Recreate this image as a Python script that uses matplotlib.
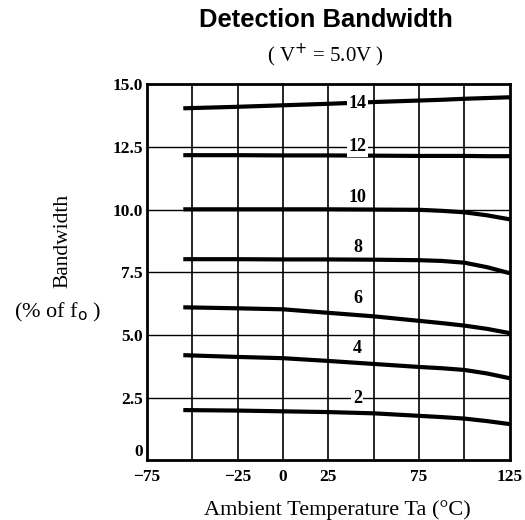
import numpy as np
import matplotlib
matplotlib.use("Agg")
import matplotlib.pyplot as plt

# temperature points (deg C)
temps = [-55, -25, 0, 25, 50, 75, 87.5, 100, 112.5, 125]

bw_2 = [2.00, 1.98, 1.95, 1.92, 1.87, 1.77, 1.72, 1.66, 1.56, 1.44]
bw_4 = [4.19, 4.12, 4.07, 3.96, 3.84, 3.72, 3.67, 3.60, 3.46, 3.27]
bw_6 = [6.10, 6.06, 6.02, 5.88, 5.74, 5.56, 5.47, 5.37, 5.24, 5.07]
bw_8 = [8.02, 8.02, 8.01, 8.01, 8.00, 7.98, 7.95, 7.88, 7.70, 7.46]
bw_10 = [10.01, 10.01, 10.01, 10.01, 10.00, 9.99, 9.95, 9.89, 9.77, 9.61]
bw_12 = [12.17, 12.17, 12.16, 12.16, 12.15, 12.14, 12.14, 12.14, 12.13, 12.13]
bw_14 = [14.04, 14.10, 14.16, 14.22, 14.29, 14.35, 14.38, 14.42, 14.45, 14.48]

curves = [bw_2, bw_4, bw_6, bw_8, bw_10, bw_12, bw_14]
curve_names = ["2", "4", "6", "8", "10", "12", "14"]
label_y = [2.47, 4.47, 6.45, 8.5, 10.5, 12.5, 14.24]
label_x = 41

xticks = [-75, -25, 0, 25, 75, 125]
yticks = [0, 2.5, 5.0, 7.5, 10.0, 12.5, 15.0]
ytick_labels = ["0", "2.5", "5.0", "7.5", "10.0", "12.5", "15.0"]
xgrid = [-50, -25, 0, 25, 50, 75, 100]
ygrid = [2.5, 5.0, 7.5, 10.0, 12.5]

serif = "Liberation Serif"

fig = plt.figure(figsize=(5.25, 5.2), dpi=100)
ax = fig.add_axes([0.28, 0.115, 0.691, 0.723])

for g in xgrid:
    ax.axvline(g, color="black", lw=1.2, zorder=1)
for g in ygrid:
    ax.axhline(g, color="black", lw=1.0, zorder=1)

for vals in curves:
    ax.plot(temps, vals, color="black", lw=3, solid_capstyle="butt",
            solid_joinstyle="round", zorder=3)

for name, ly in zip(curve_names, label_y):
    ax.text(label_x, ly, name, ha="center", va="center", fontsize=13,
            fontweight="bold", family=serif, zorder=4,
            bbox=dict(facecolor="white", edgecolor="none", pad=1.0))

ax.set_xlim(-75, 125)
ax.set_ylim(0, 15)
ax.set_xticks(xticks)
ax.set_xticklabels([str(t) if t >= 0 else "\u2212" + str(-t) for t in xticks])
ax.set_yticks(yticks)
ax.set_yticklabels(ytick_labels)
ax.tick_params(axis="x", length=0, pad=6)
ax.tick_params(axis="y", length=0, pad=3)
for lab in ax.get_xticklabels() + ax.get_yticklabels():
    lab.set_fontfamily(serif)
    lab.set_fontweight("bold")
    lab.set_fontsize(12.5)
# the "0" on the y axis sits just above the corner
ax.get_yticklabels()[0].set_verticalalignment("bottom")
for sp in ax.spines.values():
    sp.set_linewidth(2)

fig.text(0.62, 0.962, "Detection Bandwidth", ha="center", va="center",
         fontsize=18.4, fontweight="bold", family="Liberation Sans")
fig.text(0.62, 0.894, "( V$^{+}$ = 5.0V )", ha="center", va="center",
         fontsize=15, family=serif)
fig.text(0.12, 0.537, "Bandwidth", rotation=90, ha="center", va="center",
         fontsize=15.5, family=serif)
fig.text(0.11, 0.40, "(% of f$_{\\mathrm{o}}$ )", ha="center", va="center",
         fontsize=16, family=serif)
fig.text(0.642, 0.02, "Ambient Temperature Ta (\u00b0C)", ha="center", va="center",
         fontsize=16, family=serif)

fig.savefig("out.png", dpi=100)
